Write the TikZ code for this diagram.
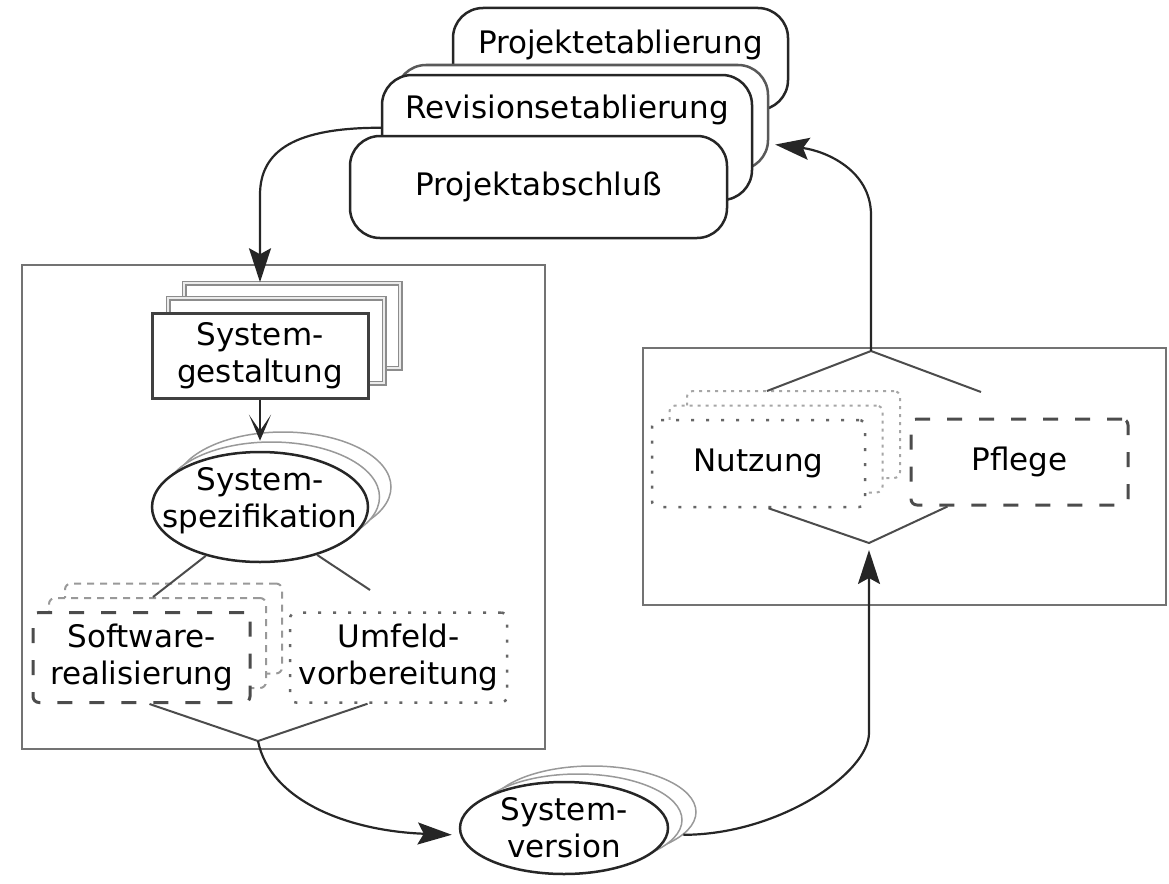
\documentclass[tikz,border=0pt]{standalone}
\usepackage{fontspec}
\setmainfont{DejaVu Sans}
\usetikzlibrary{shapes.geometric,arrows.meta}

\tikzset{
  every node/.style={font=\fontsize{31}{37}\selectfont, align=center},
  groupbox/.style={draw=black!55, line width=2pt},
  phase/.style={draw=black!85, line width=2.5pt, fill=white, rounded corners=30pt, inner sep=0pt},
  phasecopy/.style={phase, draw=black!65},
  stepbox/.style={draw=black!75, line width=3pt, fill=white, minimum width=216, minimum height=85},
  stepcopy/.style={draw=black!45, line width=1.5pt, double=black!8, double distance=2pt, fill=white, minimum width=216, minimum height=85},
  result/.style={ellipse, draw=black!85, line width=2.5pt, fill=white, inner xsep=-25pt, inner ysep=-3pt},
  resultcopy/.style={result, draw=black!40, line width=1.5pt},
  task/.style={draw=black!70, line width=3pt, dash pattern=on 15pt off 17pt, rounded corners=6pt, fill=white, minimum width=217, minimum height=90, inner xsep=3pt},
  taskcopy/.style={task, draw=black!40, line width=2pt, dash pattern=on 7pt off 6pt},
  job/.style={task, draw=black!60, line width=2.5pt, dash pattern=on 3pt off 12pt},
  jobcopy/.style={job, draw=black!35, line width=2pt, dash pattern=on 3pt off 5pt},
  fork/.style={draw=black!70, line width=2pt},
  flowarrow/.style={draw=black!85, line width=2.2pt, -{Stealth[length=34pt,width=22pt,inset=6pt]}},
}

\begin{document}
\begin{tikzpicture}[x=1pt, y=-1pt]
    \useasboundingbox (0,0) rectangle (1169,883);

    % the two groups
    \node[groupbox, minimum width=523, minimum height=484] (left) at (283.5,507) {};
    \node[groupbox, minimum width=523, minimum height=257] (right) at (904.5,476.5) {};

    % project phases
    \node[phase, minimum width=335, minimum height=102, text depth=35pt] (etab) at (620.5,59) {Projektetablierung};
    \node[phasecopy, minimum width=372, minimum height=105] (rev-b) at (582,117.5) {};
    \node[phase, minimum width=370, minimum height=125, text depth=62pt] (rev) at (567,137.5) {Revisionsetablierung};
    \node[phase, minimum width=377, minimum height=102] (absch) at (538.5,187) {Projektabschluß};

    % development
    \foreach \k in {2,1}
        \node[stepcopy] (gest-b\k) at (260+16*\k, 355.5-15*\k) {};
    \node[stepbox] (gest) at (260,355.5) {System-\\gestaltung};

    \foreach \k in {2,1}
        \node[resultcopy, minimum width=216, minimum height=110] (spez-b\k) at (260+11.5*\k, 507-10*\k) {};
    \node[result, minimum width=216, minimum height=110, text depth=19pt] (spez) at (260,507) {System-\\spezifikation};

    \foreach \k in {2,1}
        \node[taskcopy] (soft-b\k) at (141.5+16*\k, 657.5-14.5*\k) {};
    \node[task] (soft) at (141.5,657.5) {Software-\\realisierung};
    \node[job] (umf) at (398.5,657.5) {Umfeld-\\vorbereitung};

    \coordinate (spez-l) at (153,597);
    \coordinate (spez-r) at (370,590);
    \draw[fork] (spez.222) -- (spez-l);
    \draw[fork] (spez.320) -- (spez-r);

    \coordinate (left-out) at (258,741);
    \draw[fork] ([xshift=8pt]soft.south) -- (left-out) -- ([xshift=-31pt]umf.south);

    % result
    \foreach \k in {2,1}
        \node[resultcopy, minimum width=208, minimum height=92] (sysv-b\k) at (564+14*\k, 828-8*\k) {};
    \node[result, minimum width=208, minimum height=92] (sysv) at (564,828) {System-\\version};

    % operation
    \foreach \k in {2,1}
        \node[jobcopy, minimum width=213, minimum height=87] (nutz-b\k) at (758.5+17.5*\k, 463.5-14.5*\k) {};
    \node[job, minimum width=213, minimum height=87] (nutz) at (758.5,463.5) {Nutzung};
    \node[task, minimum height=86] (pfl) at (1019.5,462) {Pflege};

    \coordinate (right-out) at (871,351);
    \coordinate (right-in) at (869,543);
    \coordinate (nutz-in) at (767,391);
    \coordinate (pfl-in) at (981,392);
    \draw[fork] (nutz-in) -- (right-out) -- (pfl-in);
    \draw[fork] ([xshift=10pt]nutz.south) -- (right-in) -- ([xshift=-72pt]pfl.south);

    % flow
    \draw[flowarrow] (rev.177) .. controls +(-85,0) and +(0,-45) .. (260,195) -- (gest.north |- gest-b2.north);
    \draw[flowarrow, -{Stealth[length=26pt,width=22pt,inset=16pt]}] (gest.south) -- ([yshift=10pt]spez.north);
    \draw[flowarrow, shorten >=7pt] (left-out) .. controls +(12,60) and +(-110,-4) .. ([yshift=-7pt]sysv.west);
    \draw[flowarrow, shorten >=7pt] (sysv-b2.-14) .. controls +(95,0) and +(0,40) .. (869,733) -- (right-in);
    \draw[flowarrow, shorten >=6pt] (right-out) -- (871,215) .. controls +(0,-45) and +(56,7) .. (rev-b.-8);
\end{tikzpicture}
\end{document}
